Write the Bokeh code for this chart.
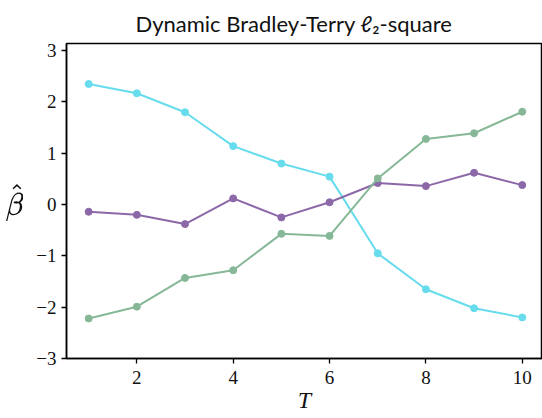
from bokeh.plotting import figure
from bokeh.models import Range1d, FixedTicker, TeX
from bokeh.embed import file_html
from bokeh.resources import INLINE

T = [1, 2, 3, 4, 5, 6, 7, 8, 9, 10]
beta_cyan = [2.35, 2.17, 1.80, 1.14, 0.80, 0.545, -0.95, -1.65, -2.02, -2.20]
beta_purple = [-0.14, -0.20, -0.38, 0.12, -0.25, 0.045, 0.42, 0.36, 0.62, 0.38]
beta_green = [-2.22, -1.99, -1.43, -1.28, -0.57, -0.61, 0.51, 1.28, 1.39, 1.81]

x_ticks = [2, 4, 6, 8, 10]
x_tick_labels = ["2", "4", "6", "8", "10"]
y_ticks = [-3, -2, -1, 0, 1, 2, 3]
y_tick_labels = ["\u22123", "\u22122", "\u22121", "0", "1", "2", "3"]

series = [
    (beta_cyan, "#66dcec"),
    (beta_purple, "#8c68a8"),
    (beta_green, "#86b897"),
]

p = figure(width=542, height=418, output_backend="svg", toolbar_location=None,
           x_range=Range1d(0.54, 10.42), y_range=Range1d(-3.0, 3.14),
           min_border_left=66, min_border_right=0, min_border_top=43, min_border_bottom=60,
           title="Dynamic Bradley-Terry \u2113\u2082-square")

p.title.align = "left"
p.title.text_font = "Lato"
p.title.text_font_style = "normal"
p.title.text_font_size = "22px"
p.title.text_color = "#111111"
p.title.offset = 69
p.title.standoff = 14

for ys, c in series:
    p.line(T, ys, line_color=c, line_width=2)
    p.scatter(T, ys, size=7, fill_color=c, line_color=c)

p.xgrid.visible = False
p.ygrid.visible = False
p.outline_line_color = "black"
p.outline_line_width = 1.5
p.outline_line_alpha = 1.0

for ax in (p.xaxis[0], p.yaxis[0]):
    ax.axis_line_width = 1.5
    ax.axis_line_color = "black"
    ax.major_tick_line_color = "black"
    ax.major_tick_line_width = 1.3
    ax.major_tick_in = 0
    ax.major_tick_out = 5
    ax.minor_tick_line_color = None
    ax.major_label_text_font = "Liberation Serif"
    ax.major_label_text_font_size = "19px"
    ax.major_label_text_color = "#111111"
    ax.axis_label_text_color = "#111111"

p.xaxis.ticker = FixedTicker(ticks=x_ticks)
p.xaxis.major_label_overrides = dict(zip(x_ticks, x_tick_labels))
p.yaxis.ticker = FixedTicker(ticks=y_ticks)
p.yaxis.major_label_overrides = dict(zip(y_ticks, y_tick_labels))
p.xaxis.major_label_standoff = 7
p.yaxis.major_label_standoff = 5

p.xaxis.axis_label = "T"
p.xaxis.axis_label_text_font = "Liberation Serif"
p.xaxis.axis_label_text_font_style = "italic"
p.xaxis.axis_label_text_font_size = "24px"
p.xaxis.axis_label_standoff = 0

p.yaxis.axis_label = TeX(text=r"\hat{\beta}")
p.yaxis.axis_label_orientation = "horizontal"
p.yaxis.axis_label_text_font_size = "26px"
p.yaxis.axis_label_standoff = 10

open("out.html", "w").write(file_html(p, INLINE))
